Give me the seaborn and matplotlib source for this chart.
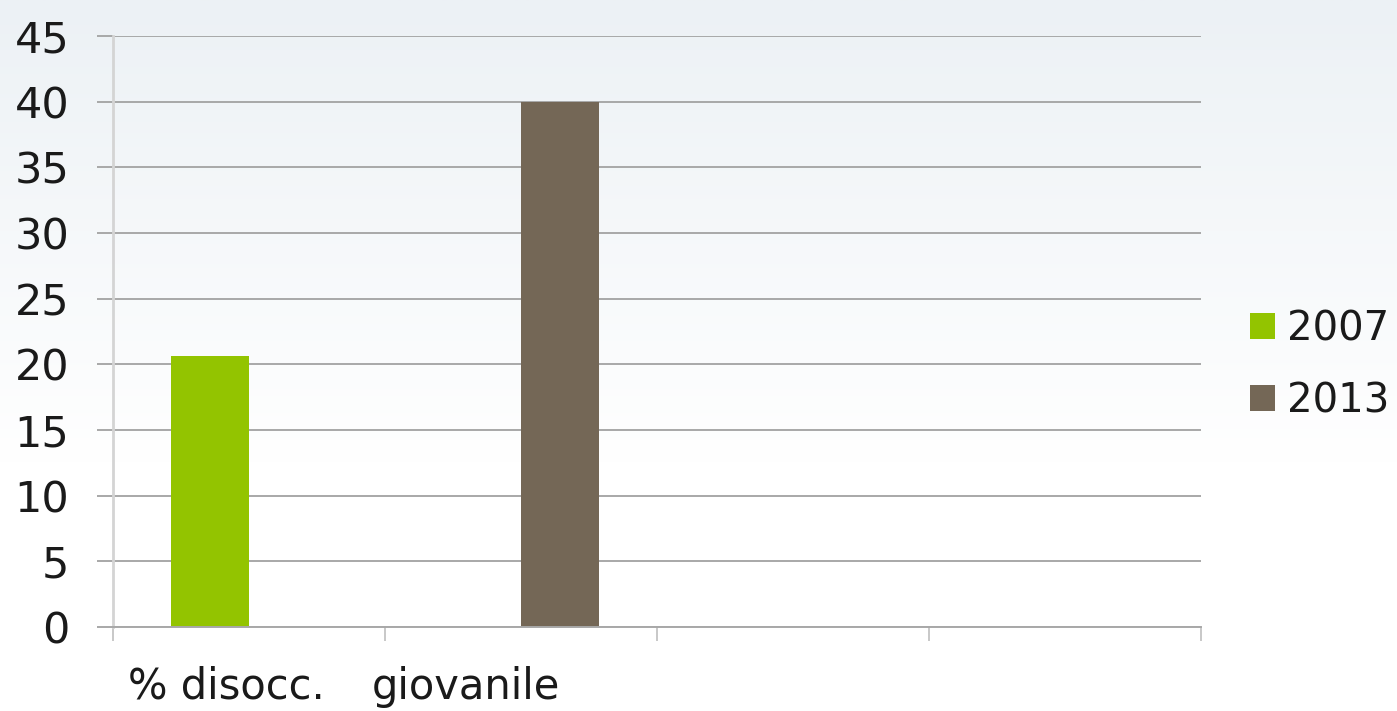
import numpy as np
import pandas as pd
import matplotlib
matplotlib.use("Agg")
import matplotlib.pyplot as plt
import matplotlib.transforms as mtransforms
from matplotlib.patches import Patch
import seaborn as sns

# data
categories = ["% disocc.", "giovanile", "", ""]
years = ["2007", "2013"]
values_2007 = [20.6, np.nan, np.nan, np.nan]
values_2013 = [np.nan, 40.0, np.nan, np.nan]
colors = {"2007": "#93c400", "2013": "#746756"}

keys = [f"c{i}" for i in range(len(categories))]
df = pd.DataFrame({
    "cat": keys * 2,
    "year": ["2007"] * len(keys) + ["2013"] * len(keys),
    "value": values_2007 + values_2013,
}).dropna()

sns.set_style("white")
plt.rcParams["font.family"] = ["DejaVu Sans"]

fig = plt.figure(figsize=(13.97, 7.11), dpi=100)

# soft background gradient
bg = fig.add_axes([0, 0, 1, 1], zorder=-10)
grad = np.linspace(0, 1, 256)[:, None]
top = np.array([236, 241, 245]) / 255
img = top + (1 - top) * np.clip(grad / 0.65, 0, 1)[..., None]
img = np.repeat(img, 2, axis=1)
bg.imshow(img, aspect="auto", extent=[0, 1, 0, 1])
bg.axis("off")

ax = fig.add_axes([0.0809, 0.118, 0.7788, 0.8314])
ax.patch.set_alpha(0)
sns.barplot(data=df, x="cat", y="value", hue="year", order=keys,
            hue_order=years, palette=colors, width=0.575, dodge=True,
            saturation=1, linewidth=0, ax=ax, legend=False)

ax.set_xlim(-0.5, len(categories) - 0.5)
ax.set_ylim(0, 45)
ax.set_yticks(np.arange(0, 46, 5))
ax.yaxis.grid(True, color="#a8a8a8", linewidth=1.4)
ax.set_axisbelow(True)
ax.set_xlabel("")
ax.set_ylabel("")

for s in ["top", "right"]:
    ax.spines[s].set_visible(False)
ax.spines["left"].set_color("#d4d4d4")
ax.spines["left"].set_linewidth(2)
ax.spines["bottom"].set_color("#a8a8a8")
ax.spines["bottom"].set_linewidth(1.4)

ax.tick_params(axis="y", length=11.5, width=1.4, color="#a8a8a8",
               labelsize=31, labelcolor="#1a1a1a", pad=20, left=True)
ax.set_xticks(range(len(categories)))
ax.set_xticklabels(categories)
ax.tick_params(axis="x", which="major", length=0, labelsize=30,
               labelcolor="#1a1a1a", pad=28)
ax.set_xticks(np.arange(-0.5, len(categories)), minor=True)
ax.tick_params(axis="x", which="minor", length=10, width=1.4,
               color="#c8c8c8", bottom=True)

# labels sit slightly left of the category centres in the original
label_shift = [-16, -40]
for lbl, dx in zip(ax.get_xticklabels(), label_shift + [0, 0]):
    lbl.set_transform(lbl.get_transform() +
                      mtransforms.ScaledTranslation(dx / 72, 0, fig.dpi_scale_trans))

handles = [Patch(facecolor=colors[y], edgecolor="none", label=y) for y in years]
fig.legend(handles=handles, loc="center left", bbox_to_anchor=(0.869, 0.486),
           frameon=False, fontsize=29, handlelength=0.62, handleheight=0.62,
           handletextpad=0.3, labelspacing=0.8, labelcolor="#1a1a1a")

fig.savefig("out.png", dpi=100)
